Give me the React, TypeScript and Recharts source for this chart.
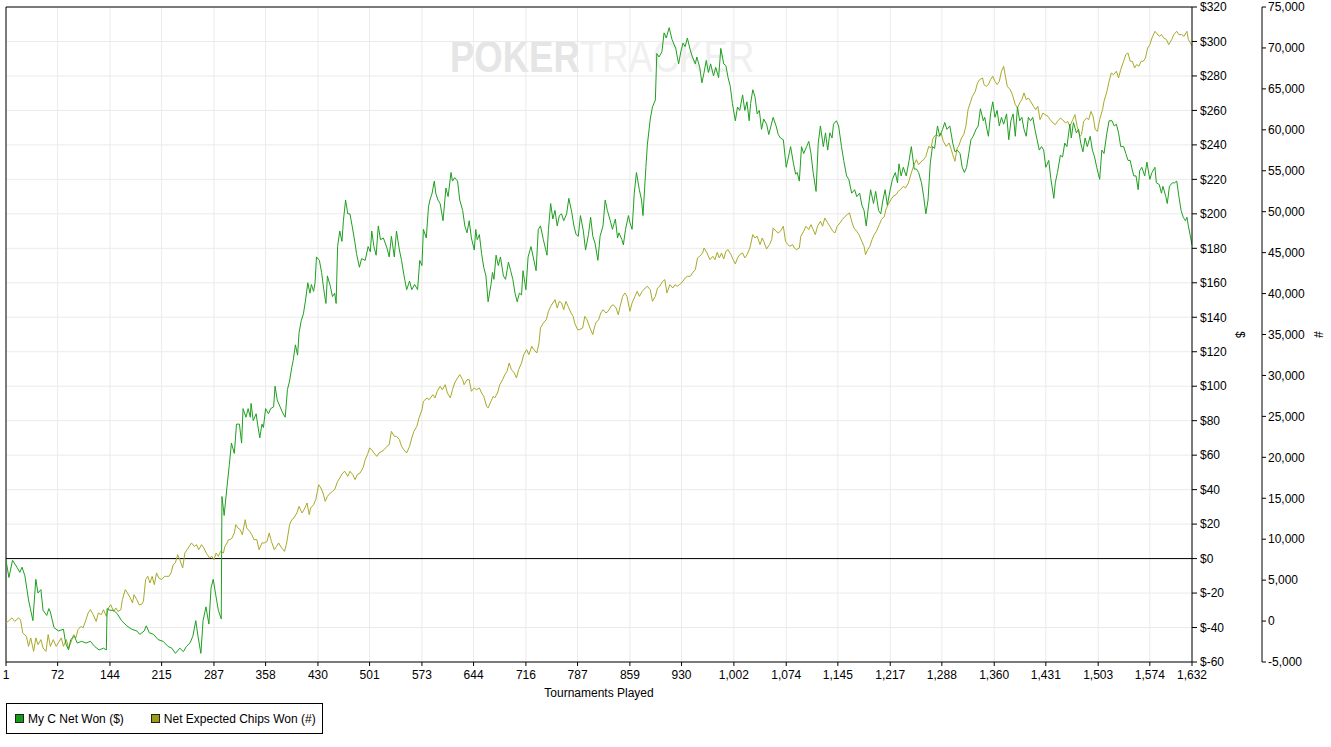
import React from 'react';
import { LineChart, Line, XAxis, YAxis, CartesianGrid, ReferenceLine, Legend } from 'recharts';

// Tournament tick labels on the x axis
const tournamentTicks = [1, 72, 144, 215, 287, 358, 430, 501, 573, 644, 716, 787, 859, 930, 1002, 1074, 1145, 1217, 1288, 1360, 1431, 1503, 1574, 1632];
// Value axis ($) and chips axis (#) ticks
const usdTicks = [-60, -40, -20, 0, 20, 40, 60, 80, 100, 120, 140, 160, 180, 200, 220, 240, 260, 280, 300, 320];
const chipTicks = [-5000, 0, 5000, 10000, 15000, 20000, 25000, 30000, 35000, 40000, 45000, 50000, 55000, 60000, 65000, 70000, 75000];

const seriesNames = ['My C Net Won ($)', 'Net Expected Chips Won (#)'];
const seriesColors = ['#1f9f1f', '#a9a92a'];
const legendSwatch = ['#159a15', '#9c9c14'];

// [tournament, $ net won]
const netWon: [number, number][] = [
  [1, -1], [5, -11], [10, -1], [16, -5], [20, -8], [23, -5], [27, -10], [32, -24], [38, -36], [42, -12], [45, -20], [49, -18], [52, -30], [57, -33], [60, -29], [62, -31], [67, -40], [73, -42], [80, -41], [83, -49], [87, -53], [90, -47], [95, -45], [99, -49], [105, -48], [111, -49], [117, -48], [123, -51], [129, -53], [135, -52], [139, -53],
  [140, -29], [144, -30], [149, -30], [154, -32], [160, -36], [167, -39], [174, -41], [181, -42], [185, -44], [191, -42], [194, -39], [198, -43], [204, -44], [210, -47], [217, -48], [224, -51], [229, -52], [234, -55], [240, -52], [245, -54], [249, -51], [254, -49], [258, -45], [262, -36], [265, -45], [269, -55], [272, -36], [276, -28], [280, -38], [283, -17], [286, -12], [289, -20], [293, -30], [297, -35],
  [298, 36], [301, 25], [305, 42], [308, 54], [311, 67], [315, 61], [318, 78], [322, 78], [325, 67], [327, 87], [331, 82], [334, 87], [337, 82], [338, 90], [341, 80], [345, 84], [347, 78], [350, 70], [353, 78], [355, 76], [358, 87], [362, 84], [365, 87], [369, 88], [371, 100], [374, 92], [378, 88], [381, 85], [385, 82], [388, 98], [391, 103], [394, 111], [396, 115], [399, 124], [402, 118], [404, 131], [407, 138], [410, 142], [413, 150], [416, 160], [419, 154], [421, 159], [424, 155], [426, 160], [428, 175], [432, 173], [435, 166], [438, 156], [441, 148], [443, 164], [447, 158], [450, 152], [453, 154], [455, 148],
  [457, 181], [460, 190], [463, 184], [465, 196], [468, 208], [471, 200], [474, 200], [477, 193], [481, 183], [483, 177], [487, 169], [490, 174], [495, 173], [499, 181], [502, 178], [504, 190], [507, 181], [510, 176], [513, 193], [516, 185], [520, 186], [525, 180], [528, 175], [531, 187], [535, 175], [538, 190], [542, 179], [545, 173], [548, 165], [552, 156], [556, 161], [559, 156], [563, 159], [567, 156], [570, 173], [573, 170], [575, 191], [579, 186], [582, 204], [584, 208], [587, 212], [590, 219], [592, 212], [595, 208], [598, 206],
  [602, 196], [606, 215], [609, 210], [613, 224], [615, 219], [618, 221], [622, 219], [625, 208], [629, 202], [632, 193], [635, 189], [638, 196], [641, 186], [645, 179], [647, 191], [649, 185], [652, 188], [655, 177], [658, 169], [661, 164], [664, 149], [668, 159], [670, 166], [672, 162], [675, 176], [678, 170], [681, 175], [685, 164], [688, 162], [692, 172], [695, 167], [698, 162], [701, 154], [704, 149], [707, 154], [710, 153], [712, 167], [716, 156], [719, 175], [723, 181], [726, 175], [730, 167], [733, 191], [736, 193], [740, 185], [745, 176], [747, 191], [750, 206], [753, 197], [756, 202], [759, 193], [762, 199], [765, 200], [768, 196], [772, 200], [775, 209], [779, 201], [782, 193], [785, 188], [788, 187], [791, 199], [795, 190], [798, 179], [802, 188], [805, 198], [808, 187], [811, 183], [815, 173], [818, 187], [822, 193], [825, 208], [828, 202], [832, 196], [835, 191], [839, 197], [842, 186], [844, 189], [848, 185], [850, 182], [853, 191], [857, 199], [859, 195], [862, 191], [865, 212], [868, 224], [872, 214], [875, 208], [877, 199], [881, 227],
  [883, 240], [887, 255], [890, 262], [894, 266], [896, 293], [899, 291], [903, 294], [906, 305], [909, 302], [913, 308], [917, 301], [920, 298], [922, 296], [926, 287], [929, 294], [932, 299], [935, 297], [938, 302], [942, 295], [945, 291], [949, 287], [951, 291], [955, 285], [958, 276], [961, 282], [964, 289], [967, 282], [970, 287], [974, 280], [977, 285], [981, 279], [984, 296], [988, 287], [991, 286], [994, 279], [997, 274],
  [1000, 264], [1004, 254], [1007, 262], [1010, 260], [1014, 269], [1017, 260], [1020, 265], [1023, 254], [1025, 264], [1028, 272], [1031, 268], [1034, 258], [1037, 260], [1040, 249], [1043, 255], [1047, 252], [1050, 246], [1053, 251], [1056, 256], [1060, 251], [1063, 246], [1066, 244], [1070, 243], [1074, 227], [1077, 233], [1080, 239], [1084, 229], [1087, 223], [1089, 224], [1092, 219], [1095, 239], [1098, 235], [1102, 239], [1105, 242], [1108, 235], [1111, 224], [1115, 213], [1118, 241], [1121, 251], [1125, 239], [1128, 247], [1131, 237], [1134, 247], [1137, 244], [1139, 252], [1143, 254], [1146, 251], [1150, 239], [1153, 231], [1157, 222], [1160, 220], [1164, 212], [1168, 214], [1171, 210], [1175, 212], [1178, 205], [1181, 202], [1184, 193], [1187, 204], [1190, 214], [1194, 206], [1197, 213], [1201, 202], [1204, 200], [1207, 208], [1210, 214], [1213, 205], [1217, 214], [1220, 220], [1224, 224], [1227, 218], [1229, 229],
  [1232, 222], [1235, 227], [1239, 222], [1243, 231], [1246, 239], [1250, 226], [1253, 226], [1256, 224], [1260, 218], [1263, 210], [1266, 200], [1269, 208], [1272, 229], [1275, 239], [1278, 238], [1282, 251], [1285, 245], [1289, 249], [1292, 253], [1295, 249], [1299, 251], [1303, 241], [1306, 236], [1309, 237], [1313, 235], [1316, 227], [1319, 224], [1322, 227], [1325, 235], [1328, 243], [1331, 245], [1335, 249], [1338, 251], [1341, 261], [1345, 254], [1347, 256], [1350, 249], [1352, 245], [1355, 258], [1358, 265], [1361, 256], [1364, 260], [1367, 251], [1370, 256], [1373, 252], [1377, 258], [1380, 243], [1383, 254], [1386, 258], [1389, 245], [1392, 262], [1395, 254], [1398, 256], [1401, 249], [1404, 245], [1407, 256], [1410, 254], [1413, 256], [1416, 249], [1419, 243], [1422, 237], [1425, 239], [1428, 237], [1431, 227], [1435, 231], [1438, 220], [1442, 209], [1444, 218], [1447, 224], [1451, 234], [1454, 233], [1457, 241], [1460, 239], [1464, 252], [1466, 244], [1469, 253], [1473, 247], [1476, 249], [1479, 241], [1482, 236], [1485, 244], [1488, 239], [1492, 245], [1495, 237], [1498, 233], [1501, 227], [1505, 220], [1508, 237], [1511, 235], [1515, 247], [1518, 254], [1522, 254], [1525, 251], [1528, 252], [1531, 247], [1534, 239], [1538, 239], [1541, 235], [1544, 231], [1547, 231], [1549, 227], [1552, 222], [1555, 222], [1558, 214], [1560, 225], [1563, 227], [1567, 222], [1570, 230], [1574, 220], [1577, 224], [1581, 227], [1583, 218], [1587, 217], [1590, 212], [1592, 216], [1596, 210], [1598, 206], [1601, 216], [1605, 218], [1608, 218], [1611, 219], [1614, 210], [1617, 202], [1620, 198], [1623, 196], [1625, 198], [1627, 193], [1632, 182],
];

// [tournament, net expected chips won]
const netExpectedChips: [number, number][] = [
  [1, -230], [4, -40], [9, 380], [13, -40], [18, 380], [21, 170], [24, -1450], [29, -1870], [32, -3090], [35, -2060], [39, -3700], [42, -2060], [45, -2880], [49, -2270], [52, -3290], [56, -3700], [59, -1660], [62, -3090], [66, -2270], [70, -3090], [73, -2670], [77, -2060], [80, -3090], [84, -2270], [87, -3290], [90, -2670], [94, -1660], [97, -2060], [100, -1050], [104, -650], [107, -840], [111, 170], [114, 990], [117, 1390], [121, 780], [125, -40], [128, 990], [132, 780], [135, 1390], [139, 570], [142, 1600], [145, 2000], [149, 1180], [152, 1600], [155, 1180], [159, 1390], [161, 2610], [165, 3840], [168, 3430], [172, 2820], [175, 2210], [177, 3220], [181, 2610], [184, 2000], [187, 2000], [190, 2410], [193, 5060], [196, 5460], [199, 4650], [202, 5460], [205, 4450], [208, 5880], [211, 5260], [215, 5060], [219, 5460], [222, 5460], [225, 5460], [228, 5880], [231, 6890], [234, 7100], [237, 8110], [240, 7500], [244, 6490], [247, 8320], [250, 8720], [253, 9120], [256, 9540], [260, 9120], [263, 9330], [266, 8720], [270, 9330], [273, 8930], [277, 8210], [281, 7700], [284, 7900], [287, 7500], [290, 8320], [293, 7900], [296, 8510], [300, 8320], [302, 9120], [305, 9540], [307, 9940], [309, 9940], [312, 10150], [315, 10760], [317, 11770], [320, 11370], [323, 11160], [326, 10550], [330, 12380], [332, 11370], [336, 10960], [339, 10550], [342, 9940], [346, 9940], [349, 8720], [353, 9540], [356, 9540], [360, 9730], [363, 10760], [366, 9730], [370, 8720], [373, 9120], [376, 9540], [380, 8930], [384, 8510], [387, 9540], [391, 11770], [394, 12380], [397, 12590], [401, 13200], [404, 14010], [408, 13200], [411, 13610], [415, 14420], [418, 13000], [420, 13810], [424, 14220], [427, 14830], [431, 16660], [434, 16260], [437, 15640], [440, 14620], [443, 15230], [447, 15640], [450, 15840], [453, 16050], [457, 17060], [460, 17480], [464, 18090], [467, 18290], [471, 17670], [474, 18290], [478, 17880], [481, 17270], [484, 17880], [488, 18090], [492, 18700], [495, 19710], [498, 20320], [501, 21140], [504, 20930], [507, 20530], [511, 20120], [514, 20530], [518, 20730], [521, 20930], [525, 21340], [528, 21550], [531, 23170], [535, 22560], [538, 22560], [542, 22160], [545, 21340], [548, 20930], [552, 20530], [556, 21340], [559, 22360], [562, 23170], [566, 23780], [569, 24800], [573, 25800], [575, 26840], [580, 27250], [583, 27040], [588, 27650], [591, 27250], [594, 28060], [598, 28670], [601, 28260], [605, 28870], [608, 27860], [612, 27250], [615, 28260], [618, 29080], [622, 29690], [625, 30100], [629, 29480], [631, 28870], [635, 29480], [638, 29480], [641, 28060], [645, 28470], [648, 28260], [652, 28470], [655, 27860], [658, 27450], [662, 26230], [664, 26030], [668, 26840], [671, 27450], [673, 27250], [677, 27860], [680, 28870], [684, 29480], [687, 30100], [690, 30500], [693, 31520], [696, 30710], [700, 30300], [703, 29690], [706, 30710], [710, 31520], [713, 32540], [717, 33150], [720, 32540], [724, 33560], [727, 33150], [731, 32740], [734, 33970], [736, 35800], [740, 36410], [744, 36810], [747, 37830], [750, 38440], [753, 38850], [756, 39260], [759, 38240], [762, 39050], [765, 38850], [768, 38030], [771, 39050], [774, 38440], [778, 37630], [781, 37220], [783, 36410], [787, 35590], [790, 35590], [794, 35800], [797, 37220], [800, 36810], [804, 35800], [808, 34990], [810, 35800], [812, 36410], [816, 36810], [819, 37630], [822, 38030], [826, 37630], [829, 37830], [833, 38440], [836, 38640], [840, 38240], [843, 37420], [845, 38240], [849, 39660], [852, 40070], [855, 39660], [859, 37830], [862, 38850], [866, 39660], [869, 40270], [872, 39660], [876, 40270], [880, 40680], [883, 40880], [887, 40480], [890, 39050], [894, 39660], [897, 40680], [900, 40880], [904, 41490], [907, 41700], [910, 40070], [914, 41090], [918, 40680], [921, 41090], [924, 40880], [927, 41090], [930, 41290], [935, 41900], [938, 42110], [942, 42110], [945, 42520], [949, 42920], [952, 44350], [955, 44550], [959, 44960], [961, 45570], [965, 44960], [969, 44140], [973, 44550], [976, 44140], [979, 45030], [982, 44350], [985, 44960], [988, 44220], [991, 45160], [994, 45360], [998, 44750], [1001, 44140], [1004, 43620], [1007, 44350], [1010, 44750], [1014, 44960], [1017, 44350], [1020, 44750], [1024, 45570], [1028, 47200], [1031, 46790], [1034, 47000], [1038, 45980], [1041, 46790], [1043, 46380], [1047, 45450], [1051, 45980], [1054, 46590], [1056, 48020], [1060, 47610], [1063, 47400], [1066, 47610], [1070, 48220], [1073, 46380], [1076, 45980], [1079, 45770], [1083, 45980], [1085, 45570], [1088, 45360], [1092, 45570], [1094, 47000], [1098, 47610], [1101, 48220], [1105, 47810], [1108, 48420], [1111, 47810], [1114, 47200], [1117, 48220], [1121, 48830], [1124, 48220], [1127, 49230], [1131, 48630], [1134, 48220], [1138, 47610], [1141, 47400], [1144, 48220], [1148, 48630], [1151, 49040], [1155, 49440], [1158, 49650], [1161, 49850], [1164, 48830], [1167, 48020], [1171, 47610], [1174, 47200], [1178, 46380], [1181, 45770], [1183, 44750], [1186, 45360], [1189, 45770], [1192, 46590], [1195, 47200], [1198, 47610], [1202, 48420], [1205, 49040], [1209, 49440], [1211, 50250], [1214, 50860], [1218, 51470], [1221, 51880], [1225, 52080], [1228, 52490], [1231, 52690], [1235, 53100], [1238, 52900], [1242, 53510], [1246, 54730], [1249, 55540], [1253, 56360], [1256, 55750], [1260, 56150], [1263, 56360], [1266, 56760], [1270, 57980], [1273, 57780], [1276, 59000], [1280, 59410], [1284, 59200], [1287, 59610], [1290, 58590], [1294, 57980], [1298, 58390], [1301, 57570], [1303, 56960], [1306, 56150], [1309, 57780], [1311, 57980], [1315, 59000], [1318, 59410], [1321, 60430], [1324, 62460], [1327, 63280], [1330, 64090], [1334, 64700], [1337, 65720], [1340, 66130], [1344, 66330], [1346, 65520], [1349, 65310], [1352, 65520], [1355, 66130], [1358, 66540], [1361, 65920], [1364, 65520], [1367, 65920], [1370, 67150], [1373, 67760], [1375, 66740], [1378, 65310], [1382, 64900], [1385, 64290], [1389, 63070], [1392, 62660], [1395, 63280], [1398, 63690], [1401, 64500], [1404, 63690], [1407, 63890], [1410, 63480], [1414, 62870], [1417, 62460], [1420, 62870], [1423, 61240], [1427, 62050], [1430, 61850], [1434, 61640], [1437, 61240], [1441, 60830], [1444, 60630], [1447, 61030], [1451, 61440], [1454, 61240], [1458, 60830], [1461, 61030], [1464, 60430], [1468, 61240], [1471, 61850], [1474, 60430], [1478, 59200], [1480, 59410], [1483, 61030], [1487, 61440], [1490, 61240], [1493, 62250], [1496, 61640], [1499, 60020], [1502, 59820], [1505, 61240], [1509, 62460], [1511, 63480], [1515, 64700], [1518, 65920], [1521, 66940], [1524, 66740], [1528, 67150], [1531, 66330], [1534, 67350], [1538, 68370], [1541, 69190], [1544, 69390], [1547, 68370], [1550, 68370], [1553, 67560], [1556, 67970], [1559, 67760], [1562, 68370], [1565, 68370], [1568, 68780], [1571, 69990], [1574, 70400], [1577, 71220], [1581, 72030], [1583, 71830], [1587, 71420], [1590, 71630], [1593, 71220], [1597, 71010], [1600, 70400], [1604, 71010], [1607, 71630], [1611, 72030], [1614, 71630], [1618, 71630], [1621, 71420], [1625, 72030], [1627, 71010], [1630, 70610], [1632, 70200],
];

const wonData = netWon.map(([t, v]) => ({ t, v }));
const chipsData = netExpectedChips.map(([t, v]) => ({ t, v }));

const FONT = '"Liberation Sans", Arial, Helvetica, sans-serif';
const fmtThousands = (v: number) => v.toLocaleString('en-US');
const fmtUsd = (v: number) => '$' + v;

const LegendBox = () => (
  <div
    style={{
      boxSizing: 'border-box',
      width: 317,
      height: 31,
      border: '1px solid #000',
      display: 'flex',
      alignItems: 'center',
      paddingLeft: 8,
      fontFamily: FONT,
      fontSize: 12,
      color: '#000',
      background: '#fff',
    }}
  >
    {seriesNames.map((name, i) => (
      <span key={name} style={{ display: 'flex', alignItems: 'center', marginRight: i === 0 ? 27 : 0 }}>
        <span
          style={{
            display: 'inline-block',
            boxSizing: 'border-box',
            width: 9,
            height: 9,
            border: '1px solid #222',
            background: legendSwatch[i],
            marginRight: 4,
          }}
        />
        {name}
      </span>
    ))}
  </div>
);

export default function App() {
  return (
    <div style={{ position: 'absolute', left: 0, top: 0, width: 1331, height: 747, background: '#fff', fontFamily: FONT }}>
      <svg width={1331} height={747} style={{ position: 'absolute', left: 0, top: 0 }}>
        <text transform="translate(450,72) scale(0.83,1)" fontFamily={FONT} fontSize={44}>
          <tspan fontWeight="bold" fill="#e5e5e5">POKER</tspan>
          <tspan fill="#f0f0f0">TRACKER</tspan>
        </text>
      </svg>
      <LineChart
        width={1331}
        height={747}
        margin={{ top: 7, right: 19, bottom: 13, left: 6 }}
        style={{ position: 'relative', fontFamily: FONT }}
      >
        <CartesianGrid yAxisId="dollar" stroke="#ebebeb" strokeDasharray="" />
        <XAxis
          dataKey="t"
          type="number"
          domain={[1, 1632]}
          ticks={tournamentTicks}
          interval={0}
          tickFormatter={fmtThousands}
          height={41}
          tickSize={4}
          tickMargin={4}
          axisLine={{ stroke: '#000' }}
          tickLine={{ stroke: '#000' }}
          tick={{ fontSize: 12, fill: '#000', fontFamily: FONT }}
          allowDataOverflow
          label={{ value: 'Tournaments Played', position: 'insideBottom', offset: 6, fontSize: 12, fill: '#000', fontFamily: FONT }}
        />
        <YAxis
          yAxisId="dollar"
          orientation="right"
          type="number"
          domain={[-60, 320]}
          ticks={usdTicks}
          interval={0}
          tickFormatter={fmtUsd}
          width={70}
          tickSize={5}
          tickMargin={3}
          axisLine={{ stroke: '#000' }}
          tickLine={{ stroke: '#000' }}
          tick={{ fontSize: 12, fill: '#000', fontFamily: FONT }}
          label={{ value: '$', angle: 90, position: 'center', dx: 13, fontSize: 12, fill: '#000', fontFamily: FONT }}
        />
        <YAxis
          yAxisId="hash"
          orientation="right"
          type="number"
          domain={[-5000, 75000]}
          ticks={chipTicks}
          interval={0}
          tickFormatter={fmtThousands}
          width={50}
          tickSize={4}
          tickMargin={2}
          axisLine={{ stroke: '#000' }}
          tickLine={{ stroke: '#000' }}
          tick={{ fontSize: 12, fill: '#000', fontFamily: FONT }}
          label={{ value: '#', angle: 90, position: 'center', dx: 31, fontSize: 12, fill: '#000', fontFamily: FONT }}
        />
        <ReferenceLine yAxisId="dollar" y={320} stroke="#000" />
        <ReferenceLine yAxisId="dollar" x={1} stroke="#000" />
        <ReferenceLine yAxisId="dollar" y={0} stroke="#000" />
        <Line
          yAxisId="hash"
          data={chipsData}
          dataKey="v"
          name={seriesNames[1]}
          type="linear"
          stroke={seriesColors[1]}
          strokeWidth={1}
          dot={false}
          activeDot={false}
          isAnimationActive={false}
        />
        <Line
          yAxisId="dollar"
          data={wonData}
          dataKey="v"
          name={seriesNames[0]}
          type="linear"
          stroke={seriesColors[0]}
          strokeWidth={1}
          dot={false}
          activeDot={false}
          isAnimationActive={false}
        />
        <Legend verticalAlign="bottom" align="left" content={() => <LegendBox />} />
      </LineChart>
    </div>
  );
}
